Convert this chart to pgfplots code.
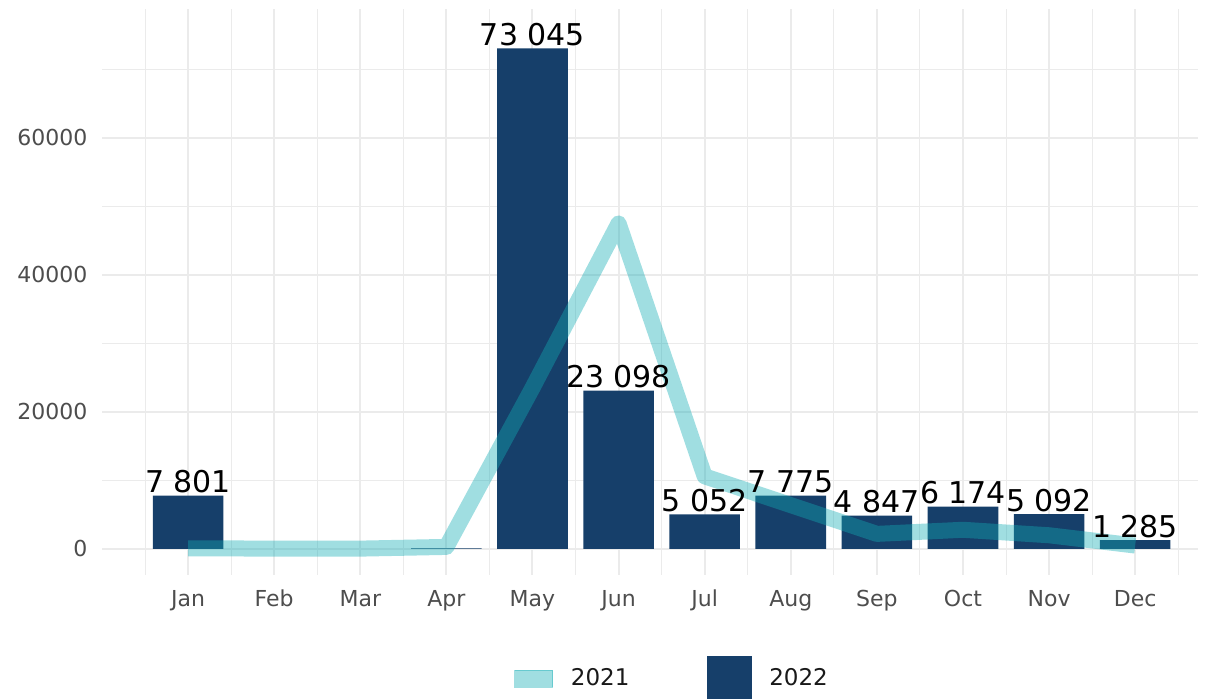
\documentclass[border=0pt]{standalone}
\usepackage{pgfplots}
\pgfplotsset{compat=1.18}
\usepackage{pgfplotstable}
\usepackage{fontspec}
\setmainfont{DejaVu Sans}
\definecolor{navy}{RGB}{22,63,106}
\definecolor{tealline}{RGB}{17,172,180}
\definecolor{gridc}{RGB}{235,235,235}
\definecolor{ticktext}{RGB}{77,77,77}

\pgfplotstableread[col sep=comma]{
x,y,label
1,7801,7 801
4,100,
5,73045,73 045
6,23098,23 098
7,5052,5 052
8,7775,7 775
9,4847,4 847
10,6174,6 174
11,5092,5 092
12,1285,1 285
}\bars

\pgfplotstableread{
x y
1 100
2 50
3 50
4 300
5 23500
6 47500
7 10600
8 6400
9 2200
10 2800
11 2000
12 500
}\lineone

\begin{document}
\begin{tikzpicture}
\useasboundingbox (0,0) rectangle (606pt,349pt);
\begin{axis}[
  at={(51pt,61.5pt)}, anchor=south west,
  scale only axis, width=548pt, height=283pt,
  xmin=0, xmax=12.73, ymin=-3800, ymax=78800,
  xtick={1,...,12},
  xticklabels={Jan,Feb,Mar,Apr,May,Jun,Jul,Aug,Sep,Oct,Nov,Dec},
  minor xtick={0.5,1.5,...,12.5},
  ytick={0,20000,40000,60000},
  minor ytick={10000,30000,50000,70000},
  scaled y ticks=false,
  /pgf/number format/1000 sep={},
  /pgf/number format/assume math mode=true,
  grid=both,
  major grid style={line width=1pt, color=gridc},
  minor grid style={line width=0.5pt, color=gridc},
  axis line style={draw=none},
  major tick length=0pt, minor tick length=0pt,
  tick label style={font=\fontsize{11}{13}\selectfont, text=ticktext},
  xticklabel style={anchor=base, yshift=-15.5pt},
  yticklabel style={xshift=-3.8pt},
  legend style={draw=none, fill=none, at={(0.521,-0.183)}, anchor=center,
    legend columns=2, font=\fontsize{11.5}{13}\selectfont, text=black!90,
    /tikz/every odd column/.append style={column sep=7pt},
    /tikz/every even column/.append style={column sep=36.5pt}},
  legend cell align=left,
]
\addplot[ybar, fill=navy, draw=none, bar width=0.82, forget plot,
  nodes near coords, point meta=explicit symbolic,
  every node near coord/.append style={font=\fontsize{15}{17}\selectfont, text=black, anchor=south, inner sep=1pt}]
  table[x=x, y=y, meta=label] {\bars};
\addplot[tealline, opacity=0.4, line width=8pt, line join=round, line cap=butt, forget plot]
  table[x=x, y=y] {\lineone};
\addlegendimage{legend image code/.code={\fill[tealline, opacity=0.4] (0pt,-4.25pt) rectangle (19pt,4.25pt);}}
\addlegendentry{2021}
\addlegendimage{legend image code/.code={\fill[navy] (0pt,-11pt) rectangle (22pt,11pt);}}
\addlegendentry{2022}
\end{axis}
\end{tikzpicture}
\end{document}
